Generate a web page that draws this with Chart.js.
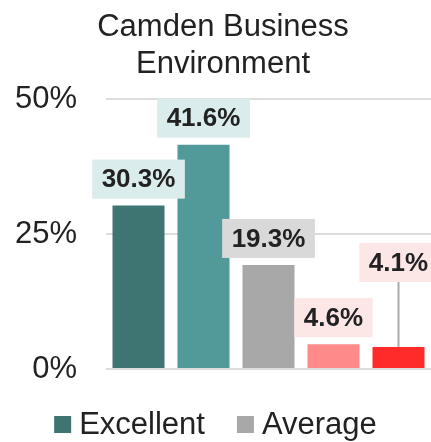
<!DOCTYPE html>
<html>
<head>
<meta charset="utf-8">
<script src="https://cdn.jsdelivr.net/npm/chart.js@4"></script>
<style>
	html, body { margin: 0; padding: 0; background: #fff; }
	#wrap { width: 431px; height: 442px; position: relative; }
</style>
</head>
<body>
<div id="wrap"><canvas id="chart"></canvas></div>
<script>
// data
const categories = ['Excellent', 'Good', 'Average', 'Poor', 'Very poor'];
const values = [30.3, 41.6, 19.3, 4.6, 4.1];
const legendNames = ['Excellent', 'Average'];
const yTicks = [0, 25, 50];

// styles
const barColors = ['#3e7472', '#529a99', '#a8a8a8', '#ff8a8a', '#ff2a2a'];
const labelBgColors = ['#dbecec', '#dbecec', '#d9d9d9', '#fde6e6', '#fde6e6'];
const labelLift = [7, 7, 7, 7, 65];
const FONT = '"Liberation Sans", Arial, sans-serif';
const TEXT = '#222222';

const valueLabels = {
	id: 'valueLabels',
	afterDatasetsDraw(chart) {
		let ctx = chart.ctx;
		let meta = chart.getDatasetMeta(0);
		ctx.save();
		ctx.font = 'bold 26px ' + FONT;
		ctx.textAlign = 'center';
		ctx.textBaseline = 'middle';
		meta.data.forEach((bar, i) => {
			let text = values[i].toFixed(1) + '%';
			let w = ctx.measureText(text).width + 19;
			let h = 39;
			let bottom = bar.y - labelLift[i];
			if (labelLift[i] > 10) {
				// leader line up to a lifted label
				ctx.strokeStyle = '#aaaaaa';
				ctx.lineWidth = 2;
				ctx.beginPath();
				ctx.moveTo(bar.x, bar.y);
				ctx.lineTo(bar.x, bottom);
				ctx.stroke();
			}
			ctx.fillStyle = labelBgColors[i];
			ctx.fillRect(bar.x - w / 2, bottom - h, w, h);
			ctx.fillStyle = TEXT;
			ctx.fillText(text, bar.x, bottom - h / 2 + 1);
		});
		ctx.restore();
	}
};

const bottomLegend = {
	id: 'bottomLegend',
	afterDraw(chart) {
		let ctx = chart.ctx;
		ctx.save();
		ctx.font = '31px ' + FONT;
		ctx.textBaseline = 'middle';
		ctx.textAlign = 'left';
		let box = 17, gap = 8, itemGap = 32;
		let items = legendNames.map((name) => {
			return { text: name, color: barColors[categories.indexOf(name)], w: ctx.measureText(name).width };
		});
		let total = items.reduce((s, it) => s + box + gap + it.w, 0) + itemGap * (items.length - 1);
		let x = (chart.width - total) / 2;
		let cy = 424.5;
		items.forEach((it) => {
			ctx.fillStyle = it.color;
			ctx.fillRect(x, cy - box / 2, box, box);
			ctx.fillStyle = TEXT;
			ctx.fillText(it.text, x + box + gap, cy + 1);
			x += box + gap + it.w + itemGap;
		});
		ctx.restore();
	}
};

new Chart(document.getElementById('chart'), {
	type: 'bar',
	data: {
		labels: categories,
		datasets: [{
			label: 'Share',
			data: values,
			backgroundColor: barColors,
			barPercentage: 0.8,
			categoryPercentage: 1
		}]
	},
	options: {
		responsive: true,
		maintainAspectRatio: false,
		animation: false,
		layout: { padding: { top: 0, left: 15, right: 0, bottom: 73 } },
		scales: {
			x: { display: false },
			y: {
				min: 0,
				max: 50,
				afterBuildTicks: (axis) => { axis.ticks = yTicks.map((v) => ({ value: v })); },
				afterFit: (axis) => { axis.width = 91; },
				border: { display: false },
				grid: { color: '#dddddd', lineWidth: 2, drawTicks: false },
				ticks: {
					padding: 29,
					color: TEXT,
					font: { family: FONT, size: 31 },
					callback: (v) => v + '%'
				}
			}
		},
		plugins: {
			legend: { display: false },
			tooltip: { enabled: false },
			title: {
				display: true,
				text: ['Camden Business', 'Environment'],
				color: TEXT,
				font: { family: FONT, size: 31, weight: 'normal', lineHeight: 1.2 },
				padding: { top: 9, bottom: 16 }
			}
		}
	},
	plugins: [valueLabels, bottomLegend]
});
</script>
</body>
</html>
